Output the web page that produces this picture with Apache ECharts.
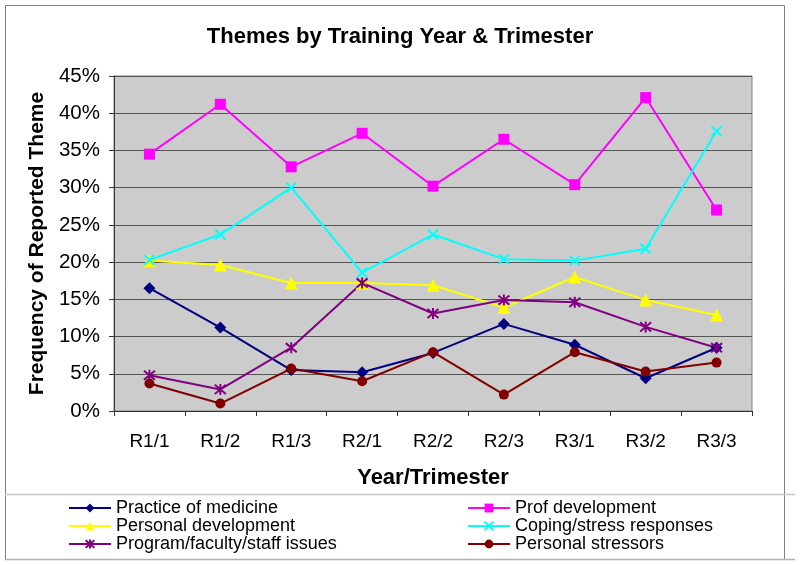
<!DOCTYPE html>
<html>
<head>
<meta charset="utf-8">
<script src="https://cdn.jsdelivr.net/npm/echarts@6/dist/echarts.min.js"></script>
<style>
html,body{margin:0;padding:0;background:#fff;}
#chart{width:800px;height:565px;}
</style>
</head>
<body>
<div id="chart"></div>
<script>
var categories = ['R1/1','R1/2','R1/3','R2/1','R2/2','R2/3','R3/1','R3/2','R3/3'];
var practiceOfMedicine = [16.5, 11.2, 5.5, 5.2, 7.8, 11.7, 8.9, 4.4, 8.5];
var profDevelopment = [34.5, 41.2, 32.8, 37.3, 30.2, 36.5, 30.4, 42.1, 27.0];
var personalDevelopment = [20.2, 19.6, 17.2, 17.2, 16.9, 13.9, 18.0, 14.9, 12.9];
var copingStress = [20.3, 23.7, 30.0, 18.6, 23.7, 20.4, 20.2, 21.8, 37.6];
var programIssues = [4.8, 2.9, 8.5, 17.2, 13.1, 14.9, 14.6, 11.3, 8.5];
var personalStressors = [3.7, 1.0, 5.7, 4.0, 7.9, 2.2, 7.9, 5.3, 6.5];
var yTicks = [0, 5, 10, 15, 20, 25, 30, 35, 40, 45];

var FONT = 'Liberation Sans';
var xPath = 'path://M0,0L10,10M10,0L0,10';
var starPath = 'path://M0,0L10,10M10,0L0,10M5,-1L5,11';

function mk(name, data, color, symbol, size, stroke) {
  return {
    name: name, type: 'line', data: data,
    symbol: symbol, symbolSize: size,
    lineStyle: { color: color, width: 2 },
    itemStyle: stroke ? { color: 'rgba(0,0,0,0)', borderColor: color, borderWidth: 2 } : { color: color },
    emphasis: { disabled: true },
    animation: false,
    z: 3
  };
}

var chart = echarts.init(document.getElementById('chart'));
var legendText = { fontFamily: FONT, fontSize: 18, color: '#000', lineHeight: 18 };
function legendCol(left, names) {
  return {
    data: names, top: 499, left: left, orient: 'vertical',
    itemWidth: 42, itemHeight: 11, itemGap: 0, padding: 0,
    textStyle: legendText, selectedMode: false
  };
}
chart.setOption({
  backgroundColor: '#fff',
  animation: false,
  title: {
    text: 'Themes by Training Year & Trimester',
    left: 'center', top: 21,
    textStyle: { fontFamily: FONT, fontSize: 22, fontWeight: 'bold', color: '#000' }
  },
  graphic: [
    { type: 'rect', shape: { x: 5.5, y: 5.5, width: 779, height: 554 }, style: { fill: 'none', stroke: '#808080', lineWidth: 1 }, z: -1 },
    { type: 'line', shape: { x1: 5, y1: 494.5, x2: 795, y2: 494.5 }, style: { stroke: '#c8c8c8', lineWidth: 1.5 } },
    { type: 'line', shape: { x1: 5, y1: 559.5, x2: 795, y2: 559.5 }, style: { stroke: '#b0b0b0', lineWidth: 1.5 } }
  ],
  legend: [
    legendCol(68, ['Practice of medicine', 'Personal development', 'Program/faculty/staff issues']),
    legendCol(467, ['Prof development', 'Coping/stress responses', 'Personal stressors'])
  ],
  grid: { left: 114, right: 48, top: 76, bottom: 154, show: true, backgroundColor: '#cccccc', borderColor: '#808080', borderWidth: 1 },
  xAxis: {
    type: 'category', data: categories, boundaryGap: true,
    name: 'Year/Trimester', nameLocation: 'middle', nameGap: 56,
    nameTextStyle: { fontFamily: FONT, fontSize: 22, fontWeight: 'bold', color: '#000' },
    axisLine: { lineStyle: { color: '#333', width: 1 } },
    axisTick: { show: true, length: 5, lineStyle: { color: '#333' } },
    axisLabel: { fontFamily: FONT, fontSize: 19, color: '#000', margin: 21 },
    splitLine: { show: false }
  },
  yAxis: {
    type: 'value', min: 0, max: 45, interval: 5,
    name: 'Frequency of Reported Theme', nameLocation: 'middle', nameGap: 65,
    nameTextStyle: { fontFamily: FONT, fontSize: 21, fontWeight: 'bold', color: '#000' },
    axisLine: { show: true, lineStyle: { color: '#333', width: 1 } },
    axisTick: { show: true, length: 5, lineStyle: { color: '#333' } },
    axisLabel: { fontFamily: FONT, fontSize: 20.5, color: '#000', margin: 14,
      formatter: function (v) { return yTicks.indexOf(v) >= 0 ? v + '%' : ''; } },
    splitLine: { show: true, lineStyle: { color: '#555', width: 1 } }
  },
  series: [
    mk('Practice of medicine', practiceOfMedicine, '#000080', 'diamond', 12, false),
    mk('Prof development', profDevelopment, '#ff00ff', 'rect', 11, false),
    mk('Personal development', personalDevelopment, '#ffff00', 'triangle', 13, false),
    mk('Coping/stress responses', copingStress, '#00ffff', xPath, 10, true),
    mk('Program/faculty/staff issues', programIssues, '#800080', starPath, 11, true),
    mk('Personal stressors', personalStressors, '#800000', 'circle', 10, false)
  ]
});
</script>
</body>
</html>
